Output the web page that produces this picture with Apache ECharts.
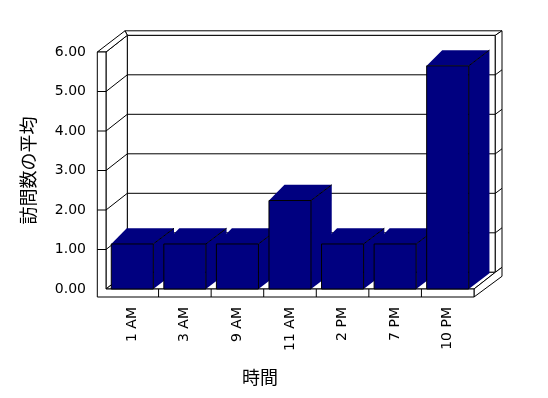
<!DOCTYPE html>
<html>
<head>
<meta charset="utf-8">
<script src="https://cdn.jsdelivr.net/npm/echarts@6/dist/echarts.min.js"></script>
<style>html,body{margin:0;padding:0;background:#fff;}#c{width:548px;height:398px;}</style>
</head>
<body>
<div id="c"></div>
<script>
var categories = ['1 AM', '3 AM', '9 AM', '11 AM', '2 PM', '7 PM', '10 PM'];
var visits = [1.14, 1.14, 1.14, 2.24, 1.14, 1.14, 5.65];
var yTickLabels = ['0.00', '1.00', '2.00', '3.00', '4.00', '5.00', '6.00'];
var yName = '訪問数の平均';
var xName = '時間';

// styling constants (pixels)
var DX = 21.3, DY = -16.7;       // wall depth
var SLAB = 8.7, FLOOR = 8;       // wall / floor thickness
var RX = 6.7, RY = -5;           // back wall side strip
var BAR_DXL = 15.5, BAR_DXR = 20.7, BAR_DY = -15.7;
var NAVY = '#000080';

var chart = echarts.init(document.getElementById('c'), null, {renderer: 'canvas'});

function frameRender(params, api) {
  var cs = params.coordSys;
  var x0 = cs.x, x1 = cs.x + cs.width, yT = cs.y, yB = cs.y + cs.height;
  var bx0 = x0 + DX, bx1 = x1 + DX, byT = yT + DY, byB = yB + DY;
  var topOuterY = byT - 4.5;
  var st = {fill: '#fff', stroke: '#000', lineWidth: 1};
  var ln = {stroke: '#000', lineWidth: 1, fill: null};
  var ch = [];
  function poly(pts) { ch.push({type: 'polygon', shape: {points: pts}, style: st}); }
  function line(a, b) { ch.push({type: 'line', shape: {x1: a[0], y1: a[1], x2: b[0], y2: b[1]}, style: ln}); }
  // back wall
  poly([[bx0, byT], [bx1, byT], [bx1, byB], [bx0, byB]]);
  // back wall top slab
  poly([[bx0, byT], [x0 - SLAB + 27.7, topOuterY], [bx1 + RX, topOuterY], [bx1, byT]]);
  // right strip
  poly([[bx1, byT], [bx1 + RX, topOuterY], [bx1 + RX, byB + RY], [bx1, byB]]);
  // left wall inner face
  poly([[x0, yT], [bx0, byT], [bx0, byB], [x0, yB]]);
  // left wall top
  poly([[x0 - SLAB, yT], [x0, yT], [bx0, byT], [x0 - SLAB + 27.7, topOuterY]]);
  // floor top
  poly([[x0, yB], [x1, yB], [bx1, byB], [bx0, byB]]);
  // floor right face
  poly([[x1, yB], [bx1, byB], [bx1 + RX, byB + RY], [bx1 + RX, byB + 4], [x1, yB + FLOOR]]);
  // left wall front + floor front (L shape)
  poly([[x0 - SLAB, yT], [x0, yT], [x0, yB], [x1, yB], [x1, yB + FLOOR], [x0 - SLAB, yB + FLOOR]]);
  // gridlines
  for (var i = 1; i < yTickLabels.length - 1; i++) {
    var y = api.coord([0, parseFloat(yTickLabels[i])])[1];
    line([x0 - SLAB, y], [x0, y]);
    line([x0, y], [bx0, y + DY]);
    line([bx0, y + DY], [bx1, y + DY]);
    line([bx1, y + DY], [bx1 + RX, y + DY + RY]);
  }
  // category dividers on floor front
  var bw = api.size([1, 0])[0];
  for (var k = 1; k < categories.length; k++) {
    var xb = api.coord([k, 0])[0] - bw / 2;
    line([xb, yB], [xb, yB + FLOOR]);
  }
  return {type: 'group', children: ch};
}

function barRender(params, api) {
  var i = api.value(0), v = api.value(1);
  var p0 = api.coord([i, 0]), p1 = api.coord([i, v]);
  var w = api.size([1, 0])[0] * 0.8;
  var L = p0[0] - w / 2, R = p0[0] + w / 2, yt = p1[1], yb = p0[1];
  return {type: 'group', children: [
    {type: 'polygon', shape: {points: [[R, yt], [R + BAR_DXR, yt + BAR_DY], [R + BAR_DXR, yb + BAR_DY], [R, yb]]},
      style: {fill: NAVY, stroke: null}},
    {type: 'polygon', shape: {points: [[L, yt], [R, yt], [R + BAR_DXR, yt + BAR_DY], [L + BAR_DXL, yt + BAR_DY]]},
      style: {fill: NAVY, stroke: null}},
    {type: 'line', shape: {x1: R, y1: yt, x2: R + BAR_DXR, y2: yt + BAR_DY}, style: {stroke: '#000', lineWidth: 1}},
    {type: 'rect', shape: {x: L, y: yt, width: w, height: yb - yt}, style: {fill: NAVY, stroke: '#000', lineWidth: 1}}
  ]};
}

var labelFont = {color: '#000', fontFamily: 'DejaVu Sans', fontSize: 14};

chart.setOption({
  animation: false,
  backgroundColor: '#fff',
  grid: {left: 106, top: 52, width: 368, height: 237},
  xAxis: {
    type: 'category', data: categories,
    axisLine: {show: false}, axisTick: {show: false}, splitLine: {show: false},
    axisLabel: Object.assign({rotate: 90, margin: 18, interval: 0}, labelFont),
    name: xName, nameLocation: 'middle', nameGap: 79,
    nameTextStyle: {color: '#000', fontFamily: 'Noto Sans CJK JP', fontSize: 18, padding: [0, 60, 0, 0]}
  },
  yAxis: {
    type: 'value', min: 0, max: 6, interval: 1,
    axisLine: {show: false}, axisTick: {show: false}, splitLine: {show: false},
    axisLabel: Object.assign({margin: 20, formatter: function (v) { return yTickLabels[Math.round(v)]; }}, labelFont),
    name: yName, nameLocation: 'middle', nameGap: 69,
    nameTextStyle: {color: '#000', fontFamily: 'Noto Sans CJK JP', fontSize: 18}
  },
  series: [
    {type: 'custom', renderItem: frameRender, data: [[0, 0]], z: 1, silent: true},
    {type: 'custom', renderItem: barRender, data: visits.map(function (v, i) { return [i, v]; }), z: 2}
  ]
});
</script>
</body>
</html>
